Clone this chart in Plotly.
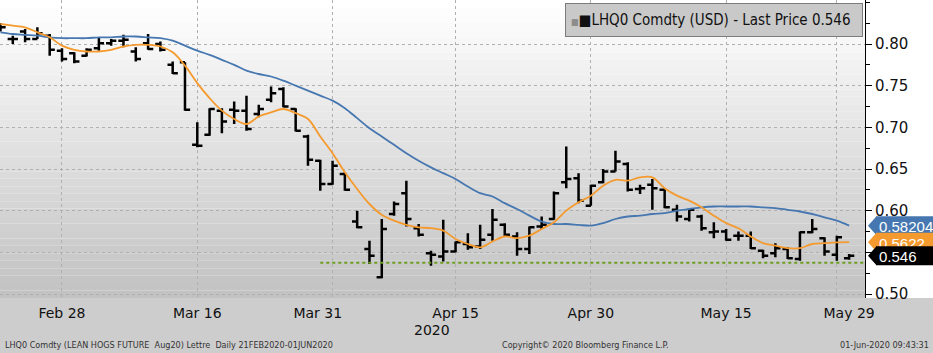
import plotly.graph_objects as go

dates = ["2020-02-21","2020-02-24","2020-02-25","2020-02-26","2020-02-27","2020-02-28",
         "2020-03-02","2020-03-03","2020-03-04","2020-03-05","2020-03-06","2020-03-09",
         "2020-03-10","2020-03-11","2020-03-12","2020-03-13","2020-03-16","2020-03-17",
         "2020-03-18","2020-03-19","2020-03-20","2020-03-23","2020-03-24","2020-03-25",
         "2020-03-26","2020-03-27","2020-03-30","2020-03-31","2020-04-01","2020-04-02",
         "2020-04-03","2020-04-06","2020-04-07","2020-04-08","2020-04-09","2020-04-13",
         "2020-04-14","2020-04-15","2020-04-16","2020-04-17","2020-04-20","2020-04-21",
         "2020-04-22","2020-04-23","2020-04-24","2020-04-27","2020-04-28","2020-04-29",
         "2020-04-30","2020-05-01","2020-05-04","2020-05-05","2020-05-06","2020-05-07",
         "2020-05-08","2020-05-11","2020-05-12","2020-05-13","2020-05-14","2020-05-15",
         "2020-05-18","2020-05-19","2020-05-20","2020-05-21","2020-05-22","2020-05-26",
         "2020-05-27","2020-05-28","2020-05-29","2020-06-01"]

open_ = [0.822,0.806,0.815,0.806,0.810,0.792,0.789,0.786,0.795,0.801,0.804,0.791,0.801,0.800,
         0.775,0.778,0.679,0.691,0.720,0.721,0.720,0.716,0.733,0.746,0.722,0.689,0.660,0.632,
         0.644,0.587,0.554,0.520,0.596,0.621,0.579,0.549,0.545,0.551,0.560,0.557,0.571,0.583,
         0.569,0.554,0.581,0.590,0.634,0.639,0.606,0.634,0.647,0.656,0.626,0.631,0.625,0.601,
         0.590,0.593,0.574,0.575,0.570,0.570,0.552,0.549,0.554,0.542,0.574,0.567,0.547,0.543]
high = [0.825,0.810,0.818,0.820,0.812,0.795,0.790,0.795,0.808,0.806,0.811,0.796,0.812,0.803,
        0.779,0.778,0.706,0.723,0.723,0.731,0.738,0.727,0.749,0.748,0.723,0.691,0.661,0.660,
        0.646,0.600,0.564,0.590,0.611,0.636,0.584,0.552,0.589,0.563,0.573,0.583,0.602,0.585,
        0.574,0.581,0.593,0.623,0.677,0.645,0.631,0.650,0.672,0.658,0.631,0.638,0.627,0.607,
        0.602,0.595,0.586,0.578,0.575,0.575,0.553,0.561,0.556,0.575,0.590,0.568,0.570,0.548]
low = [0.815,0.800,0.802,0.806,0.786,0.779,0.777,0.785,0.792,0.798,0.796,0.779,0.793,0.791,
       0.764,0.720,0.676,0.690,0.693,0.704,0.696,0.712,0.730,0.724,0.695,0.654,0.624,0.631,
       0.624,0.579,0.536,0.519,0.594,0.581,0.569,0.534,0.539,0.550,0.553,0.554,0.564,0.569,
       0.546,0.548,0.578,0.589,0.627,0.609,0.606,0.633,0.647,0.623,0.620,0.601,0.603,0.587,
       0.587,0.576,0.567,0.564,0.564,0.554,0.543,0.544,0.542,0.540,0.573,0.546,0.540,0.541]
close = [0.820,0.806,0.806,0.813,0.793,0.782,0.779,0.793,0.801,0.804,0.805,0.782,0.794,0.793,
         0.765,0.721,0.678,0.722,0.707,0.720,0.698,0.722,0.741,0.725,0.696,0.661,0.632,0.654,
         0.625,0.580,0.546,0.578,0.608,0.590,0.571,0.547,0.551,0.562,0.556,0.565,0.589,0.571,
         0.554,0.580,0.583,0.621,0.638,0.612,0.630,0.647,0.659,0.625,0.627,0.627,0.604,0.593,
         0.601,0.579,0.575,0.565,0.570,0.555,0.546,0.555,0.543,0.574,0.578,0.551,0.568,0.546]

ma_short = [0.824,0.822,0.820,0.814,0.808,0.798,0.793,0.791,0.791,0.793,0.797,0.799,0.799,0.797,
            0.790,0.774,0.753,0.735,0.720,0.710,0.704,0.713,0.718,0.722,0.717,0.710,0.689,0.669,
            0.646,0.626,0.608,0.595,0.588,0.583,0.580,0.579,0.576,0.566,0.560,0.556,0.563,0.569,
            0.567,0.570,0.578,0.586,0.600,0.610,0.618,0.630,0.637,0.636,0.640,0.640,0.627,0.618,
            0.612,0.604,0.594,0.585,0.579,0.569,0.561,0.558,0.555,0.555,0.560,0.561,0.562,0.5622]
ma_long = [0.814,0.812,0.811,0.810,0.808,0.807,0.807,0.807,0.808,0.808,0.809,0.809,0.808,0.807,
           0.804,0.798,0.792,0.787,0.781,0.775,0.768,0.764,0.761,0.756,0.750,0.744,0.738,0.732,
           0.723,0.711,0.699,0.689,0.679,0.669,0.660,0.652,0.645,0.638,0.629,0.621,0.617,0.609,
           0.602,0.594,0.587,0.584,0.584,0.583,0.582,0.585,0.590,0.593,0.594,0.596,0.597,0.600,
           0.602,0.604,0.605,0.605,0.605,0.605,0.604,0.603,0.601,0.599,0.596,0.592,0.588,0.58204]

support_level = 0.5375
support_start = 26  # index of 2020-03-30

last_labels = ["0.58204", "0.5622", "0.546"]
last_values = [0.58204, 0.5622, 0.546]

grid_idx = [5, 16, 27, 37, 48, 59, 68]
label_pos = [5, 16, 25.8, 37, 48, 59, 69]
label_text = ["Feb 28", "Mar 16", "Mar 31", "Apr 15", "Apr 30", "May 15", "May 29"]
y_ticks = [0.50, 0.55, 0.60, 0.65, 0.70, 0.75, 0.80]

W, H = 933, 353
PW, PH = 865, 298
X_RANGE = [-0.04, 70.29]
Y_RANGE = [0.4952, 0.8528]
BLUE = "#4677b0"
ORANGE = "#f59a2e"
idx = list(range(len(dates)))

fig = go.Figure()

# background gradient (plot area)
N = 40
shapes = []
for k in range(N):
    t = k / (N - 1)
    c = int(round(255 - (255 - 194) * t))
    shapes.append(dict(type="rect", xref="paper", yref="paper",
                       x0=0, x1=1, y0=1 - (k + 1) / N, y1=1 - k / N,
                       fillcolor=f"rgb({c},{c},{c})", line_width=0, layer="below"))
# bottom band
shapes.append(dict(type="rect", xref="paper", yref="paper", x0=0, x1=W / PW + 0.01,
                   y0=-(H - PH) / PH - 0.01, y1=0, fillcolor="#cdcdcd", line_width=0, layer="below"))

# support line
shapes.append(dict(type="line", xref="x", yref="y", x0=support_start, x1=X_RANGE[1],
                   y0=support_level, y1=support_level,
                   line=dict(color="#6e9f1e", width=2, dash="dot"), layer="above"))

fig.add_trace(go.Scatter(x=idx, y=ma_long, mode="lines", line=dict(color=BLUE, width=1.8, shape="spline"),
                         hoverinfo="skip", showlegend=False))
fig.add_trace(go.Scatter(x=idx, y=ma_short, mode="lines", line=dict(color=ORANGE, width=1.8, shape="spline"),
                         hoverinfo="skip", showlegend=False))
fig.add_trace(go.Ohlc(x=idx, open=open_, high=high, low=low, close=close, text=dates,
                      increasing_line_color="black", decreasing_line_color="black",
                      line_width=2.5, tickwidth=0.42, showlegend=False))

# price badges
hh = 9.5 / (PH / (Y_RANGE[1] - Y_RANGE[0]))
for val, lab, col in zip(last_values, last_labels, [BLUE, ORANGE, "#000000"]):
    shapes.append(dict(type="rect", xref="paper", yref="y", x0=876 / PW, x1=W / PW + 0.01,
                       y0=val - hh, y1=val + hh, fillcolor=col, line_width=0, layer="above",
                       label=dict(text=lab, textposition="middle left", padding=0,
                                  font=dict(color="white", size=15, family="Liberation Sans"))))
    shapes.append(dict(type="path", xref="paper", yref="y",
                       path=f"M {868/PW},{val} L {876.5/PW},{val+hh} L {876.5/PW},{val-hh} Z",
                       fillcolor=col, line_width=0, layer="above"))

foot_font = dict(family="DejaVu Sans Condensed, Liberation Sans Narrow, Liberation Sans", size=9, color="#333333")
yf = (PH - 345) / PH
annotations = [
    dict(xref="paper", yref="paper", x=565 / PW, y=(PH - 3) / PH, xanchor="left", yanchor="top",
         text="<span style='color:#8c8c8c;font-size:9px'>■</span>■LHQ0 Comdty (USD) - Last Price 0.546",
         showarrow=False, align="left", bgcolor="#c9c9c9", bordercolor="#7c7c7c", borderwidth=1,
         borderpad=5, width=286, height=22,
         font=dict(family="DejaVu Sans Condensed, DejaVu Sans", size=15, color="#111111")),
    dict(xref="paper", yref="paper", x=432 / PW, y=(PH - 330) / PH, yanchor="middle", text="2020",
         showarrow=False, font=dict(family="DejaVu Sans", size=14, color="#111111")),
    dict(xref="paper", yref="paper", x=3 / PW, y=yf, xanchor="left", yanchor="middle",
         text="LHQ0 Comdty (LEAN HOGS FUTURE  Aug20) Lettre  Daily 21FEB2020-01JUN2020", showarrow=False,
         font=foot_font),
    dict(xref="paper", yref="paper", x=671 / PW, y=yf, yanchor="middle",
         text="Copyright© 2020 Bloomberg Finance L.P.", showarrow=False, font=foot_font),
    dict(xref="paper", yref="paper", x=931 / PW, y=yf, xanchor="right", yanchor="middle",
         text="01-Jun-2020 09:43:31", showarrow=False, font=foot_font),
]

fig.update_layout(
    width=W, height=H, margin=dict(l=0, r=W - PW, t=0, b=H - PH),
    paper_bgcolor="white", plot_bgcolor="rgba(0,0,0,0)",
    shapes=shapes, annotations=annotations, showlegend=False,
    xaxis=dict(range=X_RANGE, tickvals=grid_idx, showticklabels=False, ticks="",
               showgrid=True, gridcolor="#b0b0b0", griddash="dot", gridwidth=1,
               zeroline=False, showline=False, rangeslider=dict(visible=False), fixedrange=True),
    xaxis2=dict(range=X_RANGE, overlaying="x", side="bottom", anchor="y", tickvals=label_pos,
                ticktext=label_text, showgrid=False, zeroline=False, ticks="", ticklabelstandoff=5,
                showline=False,
                tickfont=dict(family="DejaVu Sans", size=14, color="#111111")),
    yaxis=dict(range=Y_RANGE, side="right", tickvals=y_ticks, ticktext=[f"{v:.2f}" for v in y_ticks],
               showgrid=True, gridcolor="#b0b0b0", griddash="dot", gridwidth=1,
               ticks="outside", ticklen=6, tickcolor="black", tickwidth=1,
               showline=True, linecolor="black", linewidth=1, zeroline=False,
               minor=dict(tickvals=[0.525, 0.575, 0.625, 0.675, 0.725, 0.775, 0.825, 0.85],
                          ticks="outside", ticklen=4, tickcolor="black", showgrid=False),
               tickfont=dict(family="DejaVu Sans", size=15, color="#111111")),
)
# invisible trace on xaxis2 so the label axis renders
fig.add_trace(go.Scatter(x=[X_RANGE[0]], y=[Y_RANGE[0] - 1], xaxis="x2", yaxis="y", mode="markers",
                         marker=dict(opacity=0), hoverinfo="skip", showlegend=False))

fig.write_html("out.html")
